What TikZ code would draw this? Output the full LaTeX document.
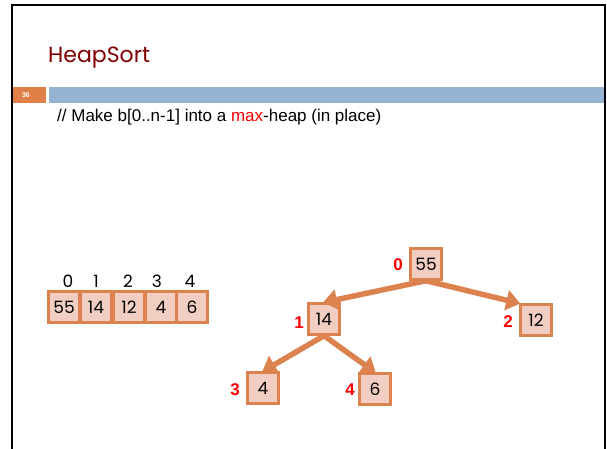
\documentclass[tikz,border=0pt]{standalone}
\usepackage{fontspec}
\setmainfont{Liberation Sans}
\newfontfamily\geo{Poppins}
\newfontfamily\arial{Liberation Sans}
\usetikzlibrary{arrows.meta,shadows}
\definecolor{titlered}{RGB}{128,0,0}
\definecolor{barblue}{RGB}{149,179,210}
\definecolor{slidenum}{RGB}{224,128,72}
\definecolor{edgeor}{RGB}{219,130,78}
\definecolor{boxfill}{RGB}{242,206,194}
\definecolor{labred}{RGB}{255,0,0}
\tikzset{
  cell/.style={draw=edgeor, line width=2.4pt, fill=boxfill, minimum width=31pt, minimum height=31pt,
    inner sep=0pt, font=\geo\fontsize{17}{17}\selectfont, text=black,
    drop shadow={shadow xshift=1pt, shadow yshift=-1.5pt, fill=black!60, opacity=0.6}},
  idx/.style={font=\geo\fontsize{17}{17}\selectfont, inner sep=0pt},
  lab/.style={font=\arial\bfseries\fontsize{17}{17}\selectfont, text=labred, inner sep=0pt},
  link/.style={draw=edgeor, line width=5.5pt, -{Triangle[width=20pt,length=14pt]}, shorten >=-1pt}
}
\begin{document}
\begin{tikzpicture}[x=1pt,y=-1pt]
\useasboundingbox (0,0) rectangle (607,448);
% frame
\draw[line width=2pt, black] (12,449) -- (12,5) -- (605,5) -- (605,449);
% title
\node[anchor=base west, inner sep=0pt, text=titlered, font=\geo\fontsize{22}{22}\selectfont] (title) at (48,62) {HeapSort};
% bars
\fill[slidenum] (13,87) rectangle (46,103);
\node[font=\arial\bfseries\fontsize{7}{7}\selectfont, text=white, inner sep=0pt] (num) at (26,95) {36};
\fill[barblue] (49,87) rectangle (604,103);
% body text
\node[anchor=base west, inner sep=0pt, font=\arial\fontsize{17}{17}\selectfont] (body) at (57,121) {// Make b[0..n-1] into a \textcolor{labred}{max}-heap (in place)};
% array
\node[cell] (a0) at (64,307) {55};
\node[cell] (a1) at (96,307) {14};
\node[cell] (a2) at (129,307) {12};
\node[cell] (a3) at (161,307) {4};
\node[cell] (a4) at (192,307) {6};
\node[idx] (i0) at (68,281) {0};
\node[idx] (i1) at (96,281) {1};
\node[idx] (i2) at (128,281) {2};
\node[idx] (i3) at (157,281) {3};
\node[idx] (i4) at (190,281) {4};
% tree
\node[cell] (t0) at (426,264) {55};
\node[cell] (t1) at (324,319) {14};
\node[cell] (t2) at (536,320) {12};
\node[cell] (t3) at (263,388) {4};
\node[cell] (t4) at (375,389) {6};
\node[lab] (l0) at (398,265) {0};
\node[lab] (l1) at (299,323) {1};
\node[lab] (l2) at (508,322) {2};
\node[lab] (l3) at (235,390) {3};
\node[lab] (l4) at (350,390) {4};
\draw[link] (t0.south) -- (t1.north);
\draw[link] (t0.south) -- (t2.north west);
\draw[link] (t1.south) -- (t3.north);
\draw[link] (t1.south) -- (t4.north);
\end{tikzpicture}
\end{document}
